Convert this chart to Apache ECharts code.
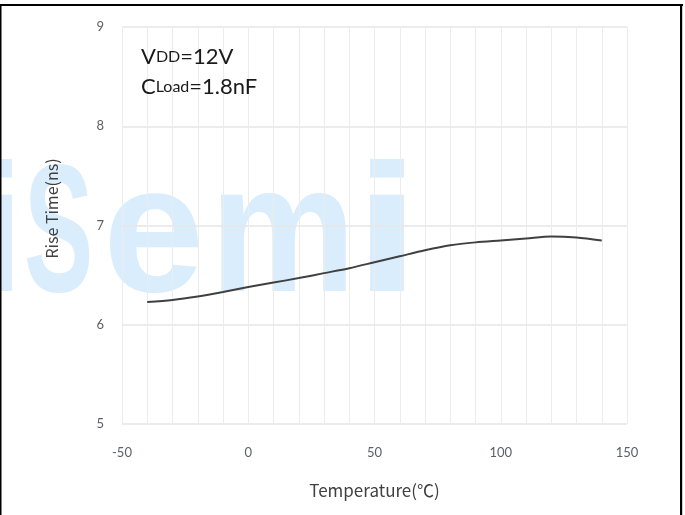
<!DOCTYPE html>
<html>
<head>
<meta charset="utf-8">
<script src="https://cdn.jsdelivr.net/npm/echarts@6/dist/echarts.min.js"></script>
<style>
html,body{margin:0;padding:0;background:#fff;}
#chart{width:685px;height:515px;}
</style>
</head>
<body>
<div id="chart"></div>
<script>
// Data
var temperatures = [-40, -30, -20, -10, 0, 10, 20, 30, 40, 50, 60, 70, 80, 90, 100, 110, 120, 130, 140];
var riseTimes = [6.23, 6.25, 6.285, 6.33, 6.38, 6.425, 6.47, 6.52, 6.57, 6.63, 6.69, 6.75, 6.80, 6.83, 6.85, 6.87, 6.89, 6.88, 6.85];
var xTickLabels = [-50, 0, 50, 100, 150];
var yTickLabels = [5, 6, 7, 8, 9];
var xAxisTitle = 'Temperature(℃)';
var yAxisTitle = 'Rise Time(ns)';
var watermarkLetters = ['i', 'S', 'e', 'm', 'i'];

var chart = echarts.init(document.getElementById('chart'), null, {renderer: 'canvas'});

var seriesData = temperatures.map(function (t, i) { return [t, riseTimes[i]]; });

// watermark letter layout (position/scale only)
var wmX = [-39, 24, 103, 210, 353];
var wmScale = [1.35, 0.57, 1.0, 0.9, 1.35];
var wmColor = '#d9edfc';
var graphics = watermarkLetters.map(function (ch, i) {
  return {
    type: 'text', x: wmX[i], y: 150, scaleX: wmScale[i], z: -10, silent: true,
    style: { text: ch, fill: wmColor, font: 'bold 182px "Liberation Sans", Arial, sans-serif',
             textAlign: 'left' }
  };
});
var annRich = { b: { fontSize: 22, fontFamily: 'Lato, sans-serif', fill: '#1a1a1a' },
                s: { fontSize: 16, fontFamily: 'Lato, sans-serif', fill: '#1a1a1a' } };
graphics.push(
  { type: 'text', x: 141, y: 57, z: 10,
    style: { rich: annRich, text: '{b|V}{s|DD}{b|=12V}', textVerticalAlign: 'middle' } },
  { type: 'text', x: 141, y: 87, z: 10,
    style: { rich: annRich, text: '{b|C}{s|Load}{b|=1.8nF}', textVerticalAlign: 'middle' } },
  { type: 'rect', shape: { x: 0, y: 4, width: 683, height: 2 }, style: { fill: '#000' }, z: 20 },
  { type: 'rect', shape: { x: 0, y: 4, width: 1.5, height: 511 }, style: { fill: '#000' }, z: 20 },
  { type: 'rect', shape: { x: 680, y: 4, width: 2.2, height: 511 }, style: { fill: '#000' }, z: 20 }
);

var option = {
  backgroundColor: '#ffffff',
  animation: false,
  grid: { left: 122, right: 58, top: 27, bottom: 91, containLabel: false },
  xAxis: {
    type: 'value', min: -50, max: 150, interval: 10,
    name: xAxisTitle, nameLocation: 'middle', nameGap: 58,
    nameTextStyle: { fontSize: 17, color: '#404040', fontFamily: '"Noto Sans CJK SC", "Noto Sans", sans-serif' },
    axisLine: { show: false }, axisTick: { show: false },
    axisLabel: { margin: 22, fontSize: 13, color: '#5a5f68', fontFamily: 'Lato, "Noto Sans", sans-serif',
      formatter: function (v) { return xTickLabels.indexOf(v) >= 0 ? String(v) : ''; } },
    splitLine: { show: true, lineStyle: { color: '#ececec', width: 1 } }
  },
  yAxis: {
    type: 'value', min: 5, max: 9, interval: 1,
    name: yAxisTitle, nameLocation: 'middle', nameGap: 62,
    nameTextStyle: { fontSize: 16, color: '#404040', fontFamily: '"Noto Sans CJK SC", "Noto Sans", sans-serif',
      padding: [0, 0, 0, 34] },
    axisLine: { show: false }, axisTick: { show: false },
    axisLabel: { margin: 18, fontSize: 13, color: '#5a5f68', fontFamily: 'Lato, "Noto Sans", sans-serif',
      formatter: function (v) { return yTickLabels.indexOf(v) >= 0 ? String(v) : ''; } },
    splitLine: { show: true, lineStyle: { color: '#e6e6e6', width: 1.5 } }
  },
  graphic: graphics,
  series: [{
    type: 'line', data: seriesData, smooth: 0.3, showSymbol: false, z: 5,
    lineStyle: { color: '#404040', width: 2 }
  }]
};
chart.setOption(option);
</script>
</body>
</html>
